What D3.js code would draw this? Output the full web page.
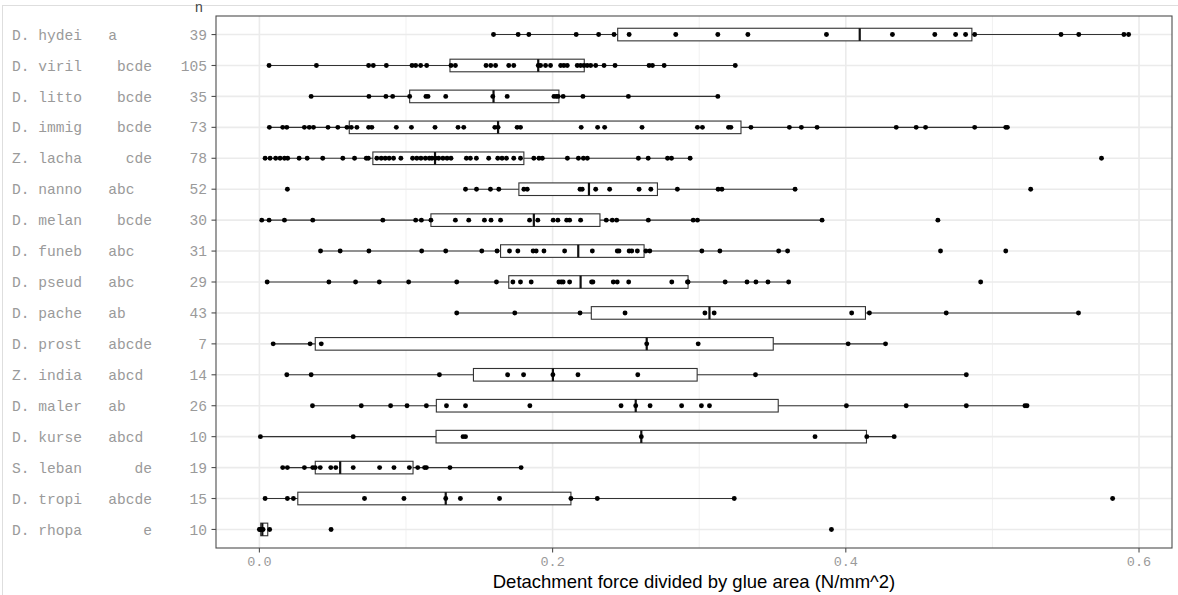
<!DOCTYPE html>
<html>
<head>
<meta charset="utf-8">
<script src="https://cdn.jsdelivr.net/npm/d3@7"></script>
<style>
  body { margin: 0; background: #fff; }
  text { white-space: pre; }
</style>
</head>
<body>
<div id="chart"></div>
<script>
const species = ["D. hydei", "D. viril", "D. litto", "D. immig", "Z. lacha", "D. nanno",
  "D. melan", "D. funeb", "D. pseud", "D. pache", "D. prost", "Z. india", "D. maler",
  "D. kurse", "S. leban", "D. tropi", "D. rhopa"];
const groups = ["a", "bcde", "bcde", "bcde", "cde", "abc", "bcde", "abc", "abc", "ab",
  "abcde", "abcd", "ab", "abcd", "de", "abcde", "e"];
const nObs = [39, 105, 35, 73, 78, 52, 30, 31, 29, 43, 7, 14, 26, 10, 19, 15, 10];

// box statistics
const whiskLo = [0.1597, 0.0066, 0.0353, 0.0068, 0.0039, 0.1406, 0.0016, 0.0417, 0.0053,
  0.1346, 0.0094, 0.0187, 0.0362, 0.0007, 0.0159, 0.0039, 0.0000];
const q1 = [0.2444, 0.1300, 0.1025, 0.0613, 0.0774, 0.1770, 0.1170, 0.1645, 0.1701,
  0.2264, 0.0381, 0.1460, 0.1207, 0.1205, 0.0381, 0.0262, 0.0009];
const med = [0.4095, 0.1902, 0.1597, 0.1628, 0.1198, 0.2248, 0.1872, 0.2175, 0.2191,
  0.3070, 0.2642, 0.2002, 0.2567, 0.2605, 0.0551, 0.1271, 0.0020];
const q3 = [0.4860, 0.2216, 0.2043, 0.3285, 0.1804, 0.2715, 0.2323, 0.2624, 0.2924,
  0.4134, 0.3505, 0.2986, 0.3539, 0.4141, 0.1048, 0.2125, 0.0057];
const whiskHi = [0.5929, 0.3246, 0.3127, 0.5102, 0.2938, 0.3654, 0.3838, 0.3603, 0.3610,
  0.5587, 0.4271, 0.4822, 0.5236, 0.4330, 0.1785, 0.3239, 0.0070];

// individual observations (visible dots)
const points = [
  [0.1597, 0.1765, 0.1838, 0.2161, 0.2314, 0.2419, 0.2522, 0.2840, 0.3127, 0.3332, 0.3868,
   0.4318, 0.4607, 0.4749, 0.4817, 0.4879, 0.5468, 0.5589, 0.5897, 0.5929],
  [0.0066, 0.0389, 0.0745, 0.0777, 0.0866, 0.1041, 0.1066, 0.1100, 0.1141, 0.1307, 0.1337,
   0.1546, 0.1578, 0.1611, 0.1701, 0.1735, 0.1902, 0.1918, 0.1952, 0.1986, 0.2055, 0.2077,
   0.2100, 0.2168, 0.2191, 0.2214, 0.2236, 0.2260, 0.2294, 0.2351, 0.2426, 0.2658, 0.2681,
   0.2761, 0.3246],
  [0.0353, 0.0747, 0.0863, 0.0909, 0.1025, 0.1136, 0.1150, 0.1271, 0.1592, 0.1690, 0.2009,
   0.2025, 0.2038, 0.2072, 0.2207, 0.2517, 0.3127],
  [0.0068, 0.0159, 0.0187, 0.0307, 0.0340, 0.0369, 0.0468, 0.0535, 0.0597, 0.0627, 0.0665,
   0.0745, 0.0767, 0.0934, 0.1037, 0.1198, 0.1355, 0.1394, 0.1606, 0.1628, 0.1758, 0.1781,
   0.2195, 0.2307, 0.2355, 0.2610, 0.2988, 0.3022, 0.3200, 0.3216, 0.3353, 0.3615, 0.3697,
   0.3804, 0.4344, 0.4480, 0.4544, 0.4879, 0.5091, 0.5102],
  [0.0039, 0.0073, 0.0111, 0.0141, 0.0171, 0.0193, 0.0271, 0.0326, 0.0432, 0.0569, 0.0649,
   0.0729, 0.0743, 0.0801, 0.0831, 0.0858, 0.0885, 0.0915, 0.0965, 0.1045, 0.1074, 0.1102,
   0.1132, 0.1159, 0.1177, 0.1200, 0.1223, 0.1252, 0.1280, 0.1307, 0.1412, 0.1439, 0.1480,
   0.1564, 0.1626, 0.1655, 0.1685, 0.1735, 0.1781, 0.1872, 0.1907, 0.1930, 0.2101, 0.2176,
   0.2210, 0.2237, 0.2585, 0.2652, 0.2784, 0.2811, 0.2938, 0.5744],
  [0.0191, 0.1406, 0.1481, 0.1576, 0.1633, 0.1804, 0.1827, 0.2187, 0.2202, 0.2294, 0.2389,
   0.2590, 0.2670, 0.2851, 0.3129, 0.3155, 0.3654, 0.5261],
  [0.0016, 0.0066, 0.0171, 0.0364, 0.0842, 0.1066, 0.1105, 0.1170, 0.1337, 0.1428, 0.1535,
   0.1580, 0.1645, 0.1843, 0.1899, 0.2004, 0.2036, 0.2096, 0.2116, 0.2191, 0.2366, 0.2407,
   0.2437, 0.2653, 0.2959, 0.2988, 0.3838, 0.4628],
  [0.0417, 0.0551, 0.0747, 0.1107, 0.1271, 0.1517, 0.1621, 0.1706, 0.1763, 0.1867, 0.1888,
   0.1941, 0.2082, 0.2271, 0.2441, 0.2453, 0.2522, 0.2540, 0.2578, 0.2636, 0.2663, 0.3018,
   0.3141, 0.3542, 0.3603, 0.4646, 0.5091],
  [0.0053, 0.0474, 0.0656, 0.0818, 0.1018, 0.1346, 0.1617, 0.1729, 0.1781, 0.1854, 0.2043,
   0.2059, 0.2072, 0.2116, 0.2266, 0.2275, 0.2414, 0.2441, 0.2519, 0.2813, 0.2920, 0.2924,
   0.3177, 0.3326, 0.3387, 0.3469, 0.3610, 0.4920],
  [0.1346, 0.1742, 0.2187, 0.2494, 0.3039, 0.3102, 0.4040, 0.4161, 0.4685, 0.5587],
  [0.0094, 0.0346, 0.0422, 0.2642, 0.2993, 0.4016, 0.4271],
  [0.0187, 0.0353, 0.1228, 0.1693, 0.1802, 0.2002, 0.2173, 0.2581, 0.3384, 0.4822],
  [0.0362, 0.0695, 0.0895, 0.1007, 0.1139, 0.1276, 0.1406, 0.1845, 0.2467, 0.2567, 0.2665,
   0.2880, 0.3015, 0.3070, 0.4004, 0.4412, 0.4822, 0.5222, 0.5236],
  [0.0007, 0.0640, 0.1389, 0.1406, 0.2605, 0.3790, 0.4143, 0.4330],
  [0.0159, 0.0191, 0.0307, 0.0364, 0.0381, 0.0415, 0.0487, 0.0521, 0.0640, 0.0820, 0.0918,
   0.1023, 0.1080, 0.1127, 0.1139, 0.1300, 0.1785],
  [0.0039, 0.0191, 0.0232, 0.0717, 0.0986, 0.1271, 0.1371, 0.1638, 0.2125, 0.2305, 0.3239,
   0.5820],
  [0.0000, 0.0005, 0.0015, 0.0025, 0.0070, 0.0489, 0.3902]
];

const xTicks = [0, 0.2, 0.4, 0.6];
const xMinor = [0.1, 0.3, 0.5];
const letterCols = "abcde";

const width = 1178;
const height = 595;
const margin = { top: 16, right: 6, bottom: 47, left: 216 };

const svg = d3.select("#chart")
  .append("svg")
  .attr("width", width)
  .attr("height", height);

// faint outer plot border
svg.append("rect")
  .attr("x", 2.5).attr("y", 5.5)
  .attr("width", width + 10).attr("height", height + 10)
  .attr("fill", "none")
  .attr("stroke", "#dedede");

const x = d3.scaleLinear()
  .domain([-0.0296, 0.6225])
  .range([margin.left, width - margin.right]);

const y = d3.scalePoint()
  .domain(species)
  .range([margin.top, height - margin.bottom])
  .padding(0.6);

const rows = species.map((s, i) => ({
  name: s, group: groups[i], n: nObs[i],
  lo: whiskLo[i], q1: q1[i], med: med[i], q3: q3[i], hi: whiskHi[i], pts: points[i]
}));

// grid
const grid = svg.append("g");
grid.selectAll(".minor")
  .data(xMinor)
  .join("line")
  .attr("x1", d => x(d)).attr("x2", d => x(d))
  .attr("y1", margin.top).attr("y2", height - margin.bottom)
  .attr("stroke", "#f1f1f1").attr("stroke-width", 1);
grid.selectAll(".major")
  .data(xTicks)
  .join("line")
  .attr("x1", d => x(d)).attr("x2", d => x(d))
  .attr("y1", margin.top).attr("y2", height - margin.bottom)
  .attr("stroke", "#ebebeb").attr("stroke-width", 1.6);
grid.selectAll(".hline")
  .data(species)
  .join("line")
  .attr("x1", margin.left).attr("x2", width - margin.right)
  .attr("y1", d => y(d)).attr("y2", d => y(d))
  .attr("stroke", "#ebebeb").attr("stroke-width", 1.6);

// boxplots
const row = svg.append("g").selectAll("g")
  .data(rows)
  .join("g")
  .attr("transform", d => `translate(0,${y(d.name)})`);

row.append("line")
  .attr("x1", d => x(d.lo)).attr("x2", d => x(d.hi))
  .attr("stroke", "#333").attr("stroke-width", 1.1);

row.append("rect")
  .attr("x", d => x(d.q1))
  .attr("width", d => x(d.q3) - x(d.q1))
  .attr("y", -6.3).attr("height", 12.6)
  .attr("fill", "#fff")
  .attr("stroke", "#333").attr("stroke-width", 1.1);

row.append("line")
  .attr("x1", d => x(d.med)).attr("x2", d => x(d.med))
  .attr("y1", -6.3).attr("y2", 6.3)
  .attr("stroke", "#111").attr("stroke-width", 2.2);

row.selectAll("circle")
  .data(d => d.pts)
  .join("circle")
  .attr("cx", d => x(d))
  .attr("cy", 0)
  .attr("r", 2.45)
  .attr("fill", "#000");

// panel border
svg.append("rect")
  .attr("x", margin.left).attr("y", margin.top)
  .attr("width", width - margin.right - margin.left)
  .attr("height", height - margin.bottom - margin.top)
  .attr("fill", "none")
  .attr("stroke", "#4d4d4d").attr("stroke-width", 1.1);

// left axis labels
const monoFont = "'Liberation Mono', 'DejaVu Sans Mono', monospace";
const left = svg.append("g");
left.selectAll(".tick")
  .data(species)
  .join("line")
  .attr("x1", margin.left - 4.5).attr("x2", margin.left)
  .attr("y1", d => y(d)).attr("y2", d => y(d))
  .attr("stroke", "#4d4d4d").attr("stroke-width", 1.1);

left.selectAll(".name")
  .data(rows)
  .join("text")
  .attr("x", 12)
  .attr("y", d => y(d.name))
  .attr("dy", "0.35em")
  .attr("font-family", monoFont)
  .attr("font-size", 14.6)
  .attr("fill", "#9a9a9a")
  .text(d => d.name + "   " + letterCols.split("").map(c => d.group.includes(c) ? c : " ").join(""));

left.selectAll(".n")
  .data(rows)
  .join("text")
  .attr("x", margin.left - 9)
  .attr("y", d => y(d.name))
  .attr("dy", "0.35em")
  .attr("text-anchor", "end")
  .attr("font-family", monoFont)
  .attr("font-size", 14.6)
  .attr("fill", "#9a9a9a")
  .text(d => d.n);

svg.append("text")
  .attr("x", 199)
  .attr("y", 12)
  .attr("text-anchor", "middle")
  .attr("font-family", "'Liberation Sans', Arial, sans-serif")
  .attr("font-size", 14)
  .attr("fill", "#444")
  .text("n");

// bottom axis
const bottom = svg.append("g");
bottom.selectAll("line")
  .data(xTicks)
  .join("line")
  .attr("x1", d => x(d)).attr("x2", d => x(d))
  .attr("y1", height - margin.bottom).attr("y2", height - margin.bottom + 4.5)
  .attr("stroke", "#4d4d4d").attr("stroke-width", 1.1);
bottom.selectAll("text")
  .data(xTicks)
  .join("text")
  .attr("x", d => x(d))
  .attr("y", height - margin.bottom + 18)
  .attr("text-anchor", "middle")
  .attr("font-family", monoFont)
  .attr("font-size", 13.5)
  .attr("fill", "#9a9a9a")
  .text(d => d3.format(".1f")(d));

svg.append("text")
  .attr("x", (margin.left + width - margin.right) / 2)
  .attr("y", 588)
  .attr("text-anchor", "middle")
  .attr("font-family", "'Liberation Sans', Arial, sans-serif")
  .attr("font-size", 18.5)
  .attr("fill", "#000")
  .text("Detachment force divided by glue area (N/mm^2)");
</script>
</body>
</html>
